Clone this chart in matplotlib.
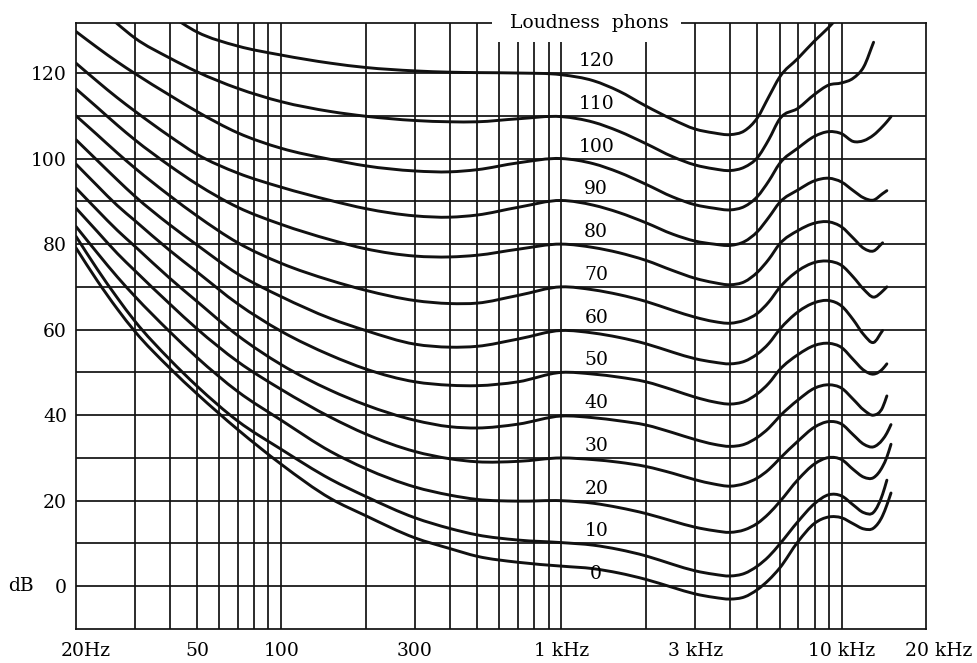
import numpy as np
import matplotlib
matplotlib.use("Agg")
import matplotlib.pyplot as plt
from matplotlib.patches import Rectangle, PathPatch
from matplotlib.path import Path
from matplotlib.ticker import NullLocator

nan = np.nan

freqs = [18.5, 22, 26, 30, 40, 50, 70, 100, 150, 200, 300, 400, 500, 700,
         1000, 1300, 1600, 2000, 2500, 3000, 3500, 4000, 4500, 5000, 5500,
         6000, 7000, 8000, 9000, 10000, 11000, 12000, 13000, 14000, 14500, 15000]

# sound level (dB) of each equal loudness contour, one list per phon value
phon_0 = [79.1, 71.5, 64.8, 59.6, 51, 45, 36.6, 28.5, 20.5, 16.5, 11.3, 8.8, 7, 5.6,
          4.7, 4.1, 3.1, 1.6, -0.3, -1.8, -2.6, -3, -2.5, -0.8, 1.5,
          4.2, 10.5, 14.7, 16.2, 16, 14.6, 13.4, 13.6, 16.5, 19, 21.8]
phon_10 = [81.8, 74.2, 67.4, 62, 53, 46.8, 38.6, 32, 25, 21, 16, 13.5, 12, 10.8,
           10.2, 9.6, 8.6, 7.1, 5.1, 3.6, 2.8, 2.4, 3.0, 4.7, 7,
           9.8, 15.2, 19.3, 21.4, 21.1, 19, 17.2, 17.3, 21.5, 24.8, nan]
phon_20 = [84.1, 78, 72.3, 67.8, 59.5, 53.5, 45.5, 38.8, 31.5, 27.5, 23.2, 21.3, 20.3, 19.9,
           20, 19.4, 18.4, 17, 15.2, 13.8, 13, 12.6, 13.2, 14.7, 17,
           19.7, 25, 28.6, 30.1, 29.6, 27.3, 25.5, 25.4, 28, 30.2, 33.2]
phon_30 = [88.4, 83, 77.8, 73.8, 66, 60.2, 52.5, 46, 39.5, 35.6, 31.5, 29.8, 29.1, 29.2,
           30, 29.6, 29, 28, 26.4, 24.9, 23.9, 23.4, 24, 25.3, 27.3,
           29.8, 34, 37.2, 38.5, 37.9, 35.4, 33.2, 32.6, 34.3, 35.8, 37.8]
phon_40 = [93.1, 88, 83.2, 79.5, 72, 66.6, 58.6, 51.8, 45.8, 42.4, 38.8, 37.3, 37, 37.9,
           39.8, 39.4, 38.7, 37.7, 35.9, 34.3, 33.2, 32.7, 33.2, 34.8, 37,
           39.7, 43.6, 46.3, 47.1, 46.3, 43.7, 41.2, 40, 41.8, 44.5, nan]
phon_50 = [98.7, 93.7, 89, 85.5, 78.5, 73.5, 66, 59.6, 54, 50.8, 47.8, 47, 46.9, 47.8,
           50, 49.6, 48.9, 47.8, 45.9, 44.2, 43.1, 42.6, 43.2, 45, 47.5,
           50.6, 54.2, 56.3, 56.8, 55.8, 53, 50.5, 49.6, 50.8, 52, nan]
phon_60 = [104.4, 99.6, 95, 91.2, 84.5, 79.8, 73, 67.7, 62.6, 59.8, 56.6, 55.9, 56.1, 57.8,
           59.8, 59.2, 58.2, 56.7, 54.7, 53.2, 52.4, 52, 52.6, 54.3, 56.8,
           60, 64.2, 66.3, 66.8, 65.5, 62.3, 58.8, 57, 59.8, nan, nan]
phon_70 = [110, 105.6, 101.3, 97.8, 91.3, 86.6, 80.3, 75.5, 71.5, 69.2, 66.8, 66.1, 66.2, 68,
           70, 69.3, 68.2, 66.6, 64.5, 62.9, 61.9, 61.5, 62.2, 63.8, 66.5,
           69.8, 73.8, 75.7, 76, 75, 72.3, 69.4, 67.6, 69, 70, nan]
phon_80 = [116.3, 112, 107.8, 104.4, 98.3, 94, 88.6, 84.6, 81, 78.9, 77.2, 77, 77.4, 78.8,
           80, 79.2, 78, 76.2, 73.8, 72, 71, 70.5, 71.2, 73.4, 76.5,
           80, 83.2, 84.9, 85.2, 84, 81.4, 79, 78.4, 80.3, nan, nan]
phon_90 = [122.3, 118.1, 114.2, 111.1, 105.2, 101, 96.6, 93.3, 90.2, 88.3, 86.6, 86.3, 86.8, 88.6,
           90.2, 89.1, 87.4, 85, 82.3, 80.7, 80, 79.7, 80.6, 82.9, 86.3,
           89.7, 92.7, 94.8, 95.4, 94.5, 92.5, 90.8, 90.3, 91.8, 92.5, nan]
phon_100 = [129.7, 126, 122.6, 119.9, 114.8, 111, 106, 102.4, 99.8, 98.3, 97.1, 96.9, 97.4, 99,
            100, 98.8, 96.8, 94, 91, 89.2, 88.4, 88, 88.8, 91.1, 94.8,
            98.8, 102.5, 105.2, 106.3, 105.8, 104, 104.2, 105.5, 107.5, 108.6, 109.8]
phon_110 = [nan, 135.7, 131.5, 128.2, 123.5, 120.3, 116.4, 113.3, 111, 109.9, 108.9, 108.6, 108.6, 109.3,
            109.8, 108.5, 106.4, 103.5, 100.4, 98.5, 97.6, 97.2, 98, 100.2, 104.5,
            109.2, 111.8, 115, 117.2, 117.7, 118.8, 121.5, 127.2, nan, nan, nan]
phon_120 = [nan, nan, nan, nan, 133.5, 129.6, 126.3, 124.2, 122.3, 121.3, 120.5, 120.2, 120.1, 120,
            119.6, 118.2, 115.8, 112.3, 109.1, 106.9, 106, 105.6, 106.5, 109.5, 114.5,
            119, 123.5, 127.5, 130.7, 134, nan, nan, nan, nan, nan, nan]

contours = [phon_0, phon_10, phon_20, phon_30, phon_40, phon_50, phon_60,
            phon_70, phon_80, phon_90, phon_100, phon_110, phon_120]
phon_levels = [0, 10, 20, 30, 40, 50, 60, 70, 80, 90, 100, 110, 120]

tick_freqs = [20, 50, 100, 300, 1000, 3000, 10000]
tick_names = ['20Hz', '50', '100', '300', '1 kHz', '3 kHz', '10 kHz']
db_ticks = [0, 20, 40, 60, 80, 100, 120]


def smooth_path(f, v):
    # bezier path through the read points (hermite tangents in log-f space)
    f = np.asarray(f, float)
    v = np.asarray(v, float)
    ok = ~np.isnan(v)
    x = np.log10(f[ok])
    y = v[ok]
    h = np.diff(x)
    d = np.diff(y) / h
    m = np.empty_like(y)
    m[0], m[-1] = d[0], d[-1]
    m[1:-1] = (h[:-1] * d[1:] + h[1:] * d[:-1]) / (h[:-1] + h[1:])
    verts = [(x[0], y[0])]
    codes = [Path.MOVETO]
    for i in range(len(h)):
        verts += [(x[i] + h[i] / 3, y[i] + m[i] * h[i] / 3),
                  (x[i + 1] - h[i] / 3, y[i + 1] - m[i + 1] * h[i] / 3),
                  (x[i + 1], y[i + 1])]
        codes += [Path.CURVE4] * 3
    verts = np.array(verts)
    verts[:, 0] = 10 ** verts[:, 0]
    return Path(verts, codes)


plt.rcParams['font.family'] = 'DejaVu Serif'
plt.rcParams['font.size'] = 13.5

fig = plt.figure(figsize=(9.77, 6.63), dpi=100)
ax = fig.add_axes([76 / 977, 34 / 663, 850 / 977, 606 / 663])
ax.set_xscale('log')
ax.set_xlim(18.5, 20000)
ax.set_ylim(-10, 131.7)

ink = '#111111'

# grid: every 10 dB, and 1-2-3..9 lines per decade up to 10 kHz
for dec in [10, 100, 1000]:
    for k in range(1, 10):
        f = k * dec
        if 20 < f <= 10000:
            ax.axvline(f, color=ink, lw=1.25, zorder=1)
ax.axvline(10000, color=ink, lw=1.25, zorder=1)
for db in range(0, 130, 10):
    ax.axhline(db, color=ink, lw=1.25, zorder=1)

for s in ax.spines.values():
    s.set_linewidth(1.25)
    s.set_color(ink)

for lev, vals in zip(phon_levels, contours):
    ax.add_patch(PathPatch(smooth_path(freqs, vals), facecolor='none',
                           edgecolor=ink, lw=2.1, capstyle='round',
                           joinstyle='round', zorder=2))
    ax.text(1330, lev + 2.8, str(lev), ha='center', va='center', zorder=5)

ax.set_xlim(18.5, 20000)
ax.set_ylim(-10, 131.7)

# gap in the top frame for the title
ax.add_patch(Rectangle((563, 127.2), 2670 - 563, 12, facecolor='white',
                       edgecolor='none', clip_on=False, zorder=3))
ax.text(1260, 131.7, 'Loudness  phons', ha='center', va='center', zorder=5)

ax.set_xticks(tick_freqs, tick_names)
ax.xaxis.set_minor_locator(NullLocator())
ax.set_yticks(db_ticks, [str(d) for d in db_ticks])
ax.tick_params(length=0)
ax.tick_params(axis='x', pad=9)
ax.tick_params(axis='y', pad=6.5)

ax.annotate('20 kHz', xy=(20000, 0), xycoords=('data', 'axes fraction'),
            xytext=(9, -9), textcoords='offset points', ha='center', va='top')
ax.annotate('dB', xy=(0, 0), xycoords=('axes fraction', 'data'),
            xytext=(-40, 0), textcoords='offset points', ha='center', va='center')

fig.savefig('out.png', dpi=100)
